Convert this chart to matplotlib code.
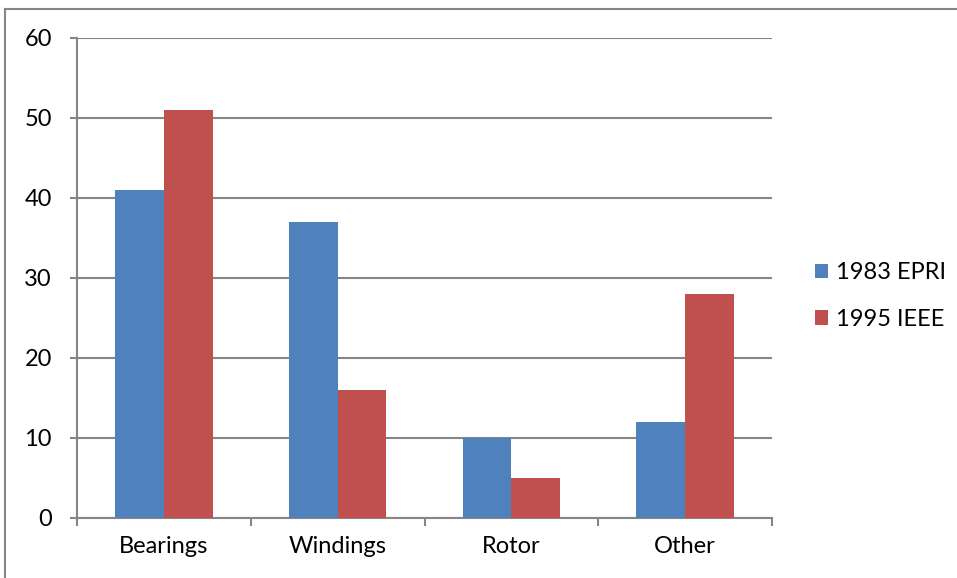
import matplotlib
matplotlib.use("Agg")
import matplotlib.pyplot as plt
import numpy as np
from matplotlib.lines import Line2D

categories = ["Bearings", "Windings", "Rotor", "Other"]
series_names = ["1983 EPRI", "1995 IEEE"]
epri = [41, 37, 10, 12]
ieee = [51, 16, 5, 28]
yticks = [0, 10, 20, 30, 40, 50, 60]

plt.rcParams['font.family'] = ['Lato', 'DejaVu Sans']

fig = plt.figure(figsize=(9.57, 5.78), dpi=100)
ax = fig.add_axes([77/957, 1-518/578, (772-77)/957, (518-38)/578])

x = np.arange(len(categories))
w = 0.28
gc = "#868686"
fs = 17
ax.bar(x - w/2, epri, w, color="#4F81BD", label=series_names[0], zorder=3)
ax.bar(x + w/2, ieee, w, color="#C0504D", label=series_names[1], zorder=3)

ax.set_xlim(-0.5, len(categories) - 0.5)
ax.set_ylim(0, 60)
ax.set_yticks(yticks)
ax.set_yticklabels([str(v) for v in yticks], fontsize=fs)
ax.set_xticks(x)
ax.set_xticklabels(categories, fontsize=fs)
ax.tick_params(axis='x', length=0, pad=13)
ax.set_xticks(np.arange(-0.5, len(categories), 1), minor=True)
ax.tick_params(axis='x', which='minor', length=6, width=1.5, color=gc, direction='out')
ax.tick_params(axis='y', length=5, width=1.5, color=gc, pad=13)
ax.grid(axis='y', color=gc, linewidth=1.5, zorder=0)
for s in ['top', 'right']:
    ax.spines[s].set_visible(False)
for s in ['left', 'bottom']:
    ax.spines[s].set_color(gc)
    ax.spines[s].set_linewidth(1.5)

ax.legend(loc='center left', bbox_to_anchor=(1.031, 0.4625), frameon=False,
          fontsize=fs, handlelength=0.55, handleheight=0.55, handletextpad=0.35,
          labelspacing=1.08)

# outer border of chart area
fig.add_artist(Line2D([5/957, 5/957], [0, 1-9/578], transform=fig.transFigure, color=gc, linewidth=1.5))
fig.add_artist(Line2D([5/957, 1], [1-9/578, 1-9/578], transform=fig.transFigure, color=gc, linewidth=1.5))

fig.savefig("out.png", dpi=100)
